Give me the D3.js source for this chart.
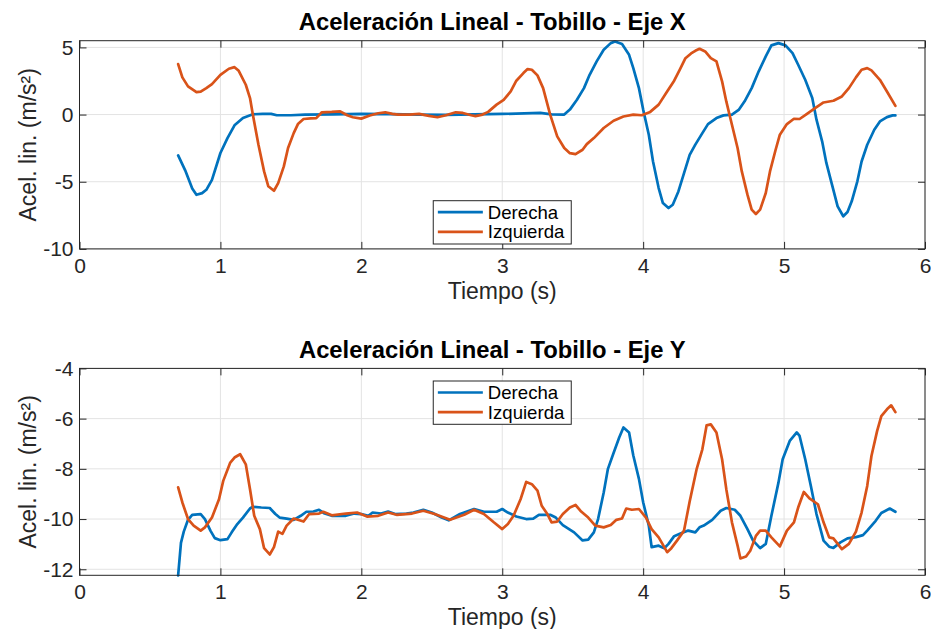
<!DOCTYPE html>
<html lang="es">
<head>
<meta charset="utf-8">
<script src="https://cdn.jsdelivr.net/npm/d3@7"></script>
<style>
  html, body { margin: 0; padding: 0; background: #fff; }
  svg { display: block; font-family: "Liberation Sans", Arial, Helvetica, sans-serif; }
</style>
</head>
<body>
<svg id="fig" width="931" height="629"></svg>
<script>
// Tiempo (s) y aceleración lineal (m/s²) del tobillo, eje X
const tEjeXDerecha = [0.70,0.75,0.80,0.83,0.87,0.90,0.94,1.00,1.05,1.10,1.16,1.23,1.30,1.36,1.40,1.50,1.60,1.80,2.00,2.20,2.40,2.60,2.80,3.00,3.10,3.27,3.35,3.44,3.48,3.53,3.58,3.62,3.67,3.72,3.77,3.80,3.85,3.90,3.93,3.97,4.00,4.04,4.07,4.11,4.14,4.18,4.21,4.25,4.29,4.33,4.37,4.42,4.46,4.52,4.57,4.63,4.68,4.72,4.77,4.82,4.87,4.91,4.96,5.01,5.06,5.10,5.15,5.20,5.23,5.27,5.30,5.34,5.38,5.42,5.45,5.48,5.52,5.55,5.59,5.64,5.68,5.73,5.77,5.79];
const ejeXDerecha  = [-3.04,-4.15,-5.5,-5.97,-5.85,-5.6,-4.86,-2.86,-1.75,-0.8,-0.26,0.02,0.05,0.05,-0.05,-0.05,0,0.02,0.05,0.03,0,-0.02,0.02,0.05,0.07,0.13,0.02,0,0.37,1.1,1.97,2.96,3.96,4.83,5.32,5.44,5.25,4.45,3.46,1.97,0.37,-1.5,-3.49,-5.47,-6.59,-6.96,-6.71,-5.72,-4.36,-3.0,-2.24,-1.38,-0.71,-0.26,-0.06,0,0.37,0.99,1.97,3.22,4.33,5.15,5.32,5.15,4.57,3.71,2.59,1.23,-0.38,-1.99,-3.6,-5.22,-6.83,-7.57,-7.25,-6.46,-4.97,-3.49,-2.25,-1.13,-0.51,-0.19,-0.06,-0.06];
const tEjeXIzquierda = [0.70,0.73,0.77,0.83,0.86,0.90,0.94,1.00,1.06,1.10,1.13,1.18,1.21,1.23,1.27,1.31,1.34,1.38,1.41,1.45,1.48,1.52,1.55,1.59,1.64,1.68,1.72,1.79,1.85,1.90,1.94,2.00,2.06,2.12,2.17,2.22,2.26,2.34,2.41,2.48,2.54,2.60,2.67,2.72,2.78,2.81,2.86,2.90,2.96,3.01,3.06,3.10,3.15,3.18,3.21,3.25,3.29,3.34,3.39,3.44,3.48,3.52,3.57,3.60,3.65,3.72,3.79,3.86,3.93,3.99,4.05,4.11,4.17,4.22,4.26,4.30,4.34,4.37,4.40,4.44,4.48,4.52,4.56,4.59,4.63,4.67,4.70,4.74,4.77,4.80,4.83,4.87,4.90,4.94,4.97,5.02,5.07,5.11,5.16,5.22,5.28,5.35,5.41,5.46,5.51,5.55,5.59,5.62,5.68,5.73,5.79];
const ejeXIzquierda  = [3.76,2.77,2.1,1.67,1.71,1.97,2.27,2.96,3.41,3.53,3.26,2.22,1.23,0,-2.25,-4.23,-5.34,-5.67,-5.1,-3.86,-2.49,-1.38,-0.71,-0.33,-0.28,-0.26,0.17,0.2,0.24,-0.05,-0.2,-0.3,-0.07,0.1,0.17,0.05,0,0,0.05,-0.1,-0.2,-0.05,0.17,0.12,-0.05,-0.12,0,0.2,0.74,1.1,1.72,2.52,3.09,3.39,3.34,2.92,1.97,0,-1.62,-2.49,-2.87,-2.94,-2.62,-2.2,-1.75,-1.0,-0.46,-0.14,0,-0.05,0.2,0.74,1.72,2.52,3.34,4.2,4.55,4.75,4.9,4.7,4.2,3.96,2.47,0.98,-0.76,-2.49,-4.23,-5.96,-7.08,-7.4,-7.08,-5.84,-4.23,-2.62,-1.5,-0.71,-0.31,-0.33,0.04,0.48,0.9,1.03,1.35,1.97,2.77,3.34,3.46,3.29,2.59,1.72,0.65];

// Tiempo (s) y aceleración lineal (m/s²) del tobillo, eje Y
const tEjeYDerecha = [0.70,0.72,0.74,0.77,0.80,0.86,0.89,0.93,0.96,1.00,1.05,1.08,1.12,1.16,1.21,1.23,1.29,1.35,1.39,1.42,1.47,1.52,1.57,1.61,1.66,1.70,1.74,1.79,1.89,1.95,2.00,2.05,2.08,2.14,2.19,2.24,2.32,2.37,2.44,2.50,2.57,2.62,2.70,2.80,2.87,2.96,3.00,3.04,3.10,3.17,3.22,3.26,3.34,3.38,3.43,3.51,3.57,3.61,3.65,3.68,3.72,3.75,3.79,3.83,3.86,3.90,3.93,3.97,4.00,4.04,4.06,4.11,4.15,4.18,4.22,4.26,4.32,4.37,4.40,4.43,4.49,4.55,4.59,4.65,4.69,4.74,4.78,4.83,4.87,4.91,4.96,4.99,5.04,5.09,5.11,5.15,5.19,5.23,5.28,5.32,5.35,5.40,5.45,5.51,5.56,5.59,5.65,5.69,5.75,5.79];
const ejeYDerecha  = [-12.24,-10.95,-10.5,-10.03,-9.83,-9.8,-10.0,-10.47,-10.76,-10.84,-10.8,-10.53,-10.2,-9.94,-9.58,-9.51,-9.54,-9.56,-9.8,-9.94,-9.98,-10.03,-9.87,-9.71,-9.7,-9.63,-9.78,-9.87,-9.87,-9.78,-9.8,-9.87,-9.74,-9.78,-9.7,-9.8,-9.78,-9.74,-9.63,-9.74,-9.94,-10.05,-9.8,-9.6,-9.71,-9.71,-9.6,-9.74,-9.9,-10.0,-9.98,-9.83,-9.83,-9.94,-10.24,-10.53,-10.85,-10.82,-10.53,-10.0,-8.94,-8.0,-7.37,-6.75,-6.35,-6.55,-7.47,-8.4,-9.33,-10.26,-11.12,-11.06,-11.16,-10.99,-10.68,-10.59,-10.46,-10.53,-10.33,-10.26,-10.03,-9.67,-9.56,-9.63,-9.87,-10.4,-10.86,-11.16,-10.99,-9.87,-8.55,-7.62,-6.89,-6.55,-6.69,-7.62,-8.68,-9.8,-10.86,-11.1,-11.15,-10.93,-10.77,-10.72,-10.64,-10.46,-10.07,-9.76,-9.58,-9.71];
const tEjeYIzquierda = [0.70,0.73,0.77,0.81,0.86,0.89,0.94,0.99,1.02,1.07,1.10,1.14,1.18,1.21,1.24,1.28,1.31,1.35,1.38,1.41,1.44,1.47,1.52,1.59,1.63,1.70,1.73,1.79,1.89,1.97,2.04,2.12,2.19,2.25,2.36,2.44,2.52,2.63,2.73,2.80,2.87,2.94,3.00,3.04,3.08,3.13,3.17,3.21,3.25,3.28,3.32,3.35,3.39,3.43,3.48,3.52,3.56,3.61,3.66,3.72,3.77,3.81,3.85,3.88,3.92,3.97,4.02,4.06,4.11,4.15,4.17,4.20,4.24,4.29,4.33,4.38,4.42,4.45,4.48,4.52,4.56,4.59,4.63,4.67,4.69,4.73,4.76,4.80,4.83,4.87,4.91,4.97,5.02,5.07,5.10,5.14,5.18,5.24,5.28,5.32,5.35,5.41,5.46,5.51,5.55,5.59,5.62,5.66,5.69,5.73,5.76,5.79];
const ejeYIzquierda  = [-8.74,-9.34,-10.0,-10.26,-10.46,-10.33,-9.94,-9.21,-8.48,-7.75,-7.55,-7.42,-7.82,-8.81,-9.87,-10.4,-11.16,-11.41,-11.12,-10.5,-10.59,-10.26,-9.98,-10.1,-9.8,-9.78,-9.71,-9.85,-9.78,-9.74,-9.9,-9.87,-9.74,-9.83,-9.78,-9.67,-9.8,-10.03,-9.83,-9.63,-9.8,-10.13,-10.4,-10.2,-9.87,-9.21,-8.52,-8.61,-8.87,-9.47,-9.8,-10.13,-10.1,-9.8,-9.54,-9.44,-9.7,-9.94,-10.26,-10.33,-10.24,-10.03,-9.98,-9.58,-9.63,-9.6,-9.94,-10.4,-10.73,-11.12,-11.32,-11.16,-10.86,-10.46,-9.3,-8.0,-7.22,-6.27,-6.23,-6.55,-7.62,-8.81,-10.13,-11.06,-11.57,-11.49,-11.26,-10.67,-10.46,-10.46,-10.73,-11.09,-10.46,-10.13,-9.54,-8.92,-9.18,-9.41,-10.13,-10.73,-10.77,-11.2,-10.99,-10.5,-9.74,-8.68,-7.49,-6.5,-5.9,-5.63,-5.47,-5.74];

const nombresSeries = ["Derecha", "Izquierda"];
const titulos = ["Aceleración Lineal - Tobillo - Eje X", "Aceleración Lineal - Tobillo - Eje Y"];
const etiquetaX = "Tiempo (s)";
const etiquetaY = "Acel. lin. (m/s²)";
const ticksTiempo = [0, 1, 2, 3, 4, 5, 6];
const ticksEjeX = [-10, -5, 0, 5];
const ticksEjeY = [-12, -10, -8, -6, -4];
const limitesEjeX = [-10, 5.5];
const limitesEjeY = [-12.24, -4];
const colores = ["#0072BD", "#D95319"];

const svg = d3.select("#fig");
const ink = "#262626";

const zip = (ts, vs) => ts.map((t, i) => [t, vs[i]]);

function panel(cfg) {
  const { top, bottom, left, right, yDomain, yTicks, title, series, legendAt, id } = cfg;
  const x = d3.scaleLinear().domain([0, 6]).range([left, right]);
  const y = d3.scaleLinear().domain(yDomain).range([bottom, top]);
  const g = svg.append("g");

  // fondo blanco
  g.append("rect").attr("x", left).attr("y", top)
    .attr("width", right - left).attr("height", bottom - top).attr("fill", "#fff");

  // rejilla
  const grid = g.append("g").attr("stroke", "#e3e3e3").attr("stroke-width", 1);
  ticksTiempo.forEach(v => {
    grid.append("line").attr("x1", x(v)).attr("x2", x(v)).attr("y1", top).attr("y2", bottom);
  });
  yTicks.forEach(v => {
    grid.append("line").attr("x1", left).attr("x2", right).attr("y1", y(v)).attr("y2", y(v));
  });

  // curvas
  g.append("clipPath").attr("id", id).append("rect")
    .attr("x", left).attr("y", top - 2).attr("width", right - left).attr("height", bottom - top + 4);
  const line = d3.line().x(d => x(d[0])).y(d => y(d[1]));
  series.forEach((s, i) => {
    g.append("path").datum(s)
      .attr("clip-path", `url(#${id})`)
      .attr("fill", "none").attr("stroke", colores[i])
      .attr("stroke-width", 2.7).attr("stroke-linejoin", "round").attr("stroke-linecap", "round")
      .attr("d", line);
  });

  // ejes (marcas hacia dentro en los cuatro lados)
  const tl = 7;
  const axB = g.append("g").attr("transform", `translate(0,${bottom})`)
    .call(d3.axisBottom(x).tickValues(ticksTiempo).tickSize(-tl).tickPadding(9).tickFormat(d3.format("d")));
  const axT = g.append("g").attr("transform", `translate(0,${top})`)
    .call(d3.axisTop(x).tickValues(ticksTiempo).tickSize(-tl).tickFormat(""));
  const axL = g.append("g").attr("transform", `translate(${left},0)`)
    .call(d3.axisLeft(y).tickValues(yTicks).tickSize(-tl).tickPadding(6).tickFormat(d => String(d)));
  const axR = g.append("g").attr("transform", `translate(${right},0)`)
    .call(d3.axisRight(y).tickValues(yTicks).tickSize(-tl).tickFormat(""));
  [axB, axT, axL, axR].forEach(a => {
    a.select(".domain").remove();
    a.selectAll(".tick line").attr("stroke", ink);
    a.selectAll("text").attr("fill", ink).attr("font-size", 21)
      .attr("font-family", "'Liberation Sans', Arial, Helvetica, sans-serif");
  });
  axB.selectAll("text").attr("dy", "0.71em");

  g.append("rect").attr("x", left).attr("y", top)
    .attr("width", right - left).attr("height", bottom - top)
    .attr("fill", "none").attr("stroke", ink).attr("stroke-width", 1);

  // título y etiquetas
  g.append("text").attr("x", (left + right) / 2 - 10).attr("y", top - 10.5)
    .attr("text-anchor", "middle").attr("font-size", 23.8).attr("font-weight", "bold")
    .attr("fill", "#000").text(title);
  g.append("text").attr("x", (left + right) / 2).attr("y", bottom + 50)
    .attr("text-anchor", "middle").attr("font-size", 23).attr("fill", ink).text(etiquetaX);
  g.append("text")
    .attr("transform", `translate(36,${(top + bottom) / 2}) rotate(-90)`)
    .attr("text-anchor", "middle").attr("font-size", 23).attr("fill", ink).text(etiquetaY);

  // leyenda
  const lw = 138, lh = 43.3;
  const lx = (left + right) / 2 - lw / 2;
  const ly = legendAt === "north" ? top + 12.6 : bottom - 4.9 - lh;
  const lg = g.append("g").attr("transform", `translate(${lx},${ly})`);
  lg.append("rect").attr("width", lw).attr("height", lh)
    .attr("fill", "#fff").attr("stroke", ink).attr("stroke-width", 1);
  nombresSeries.forEach((n, i) => {
    const yy = 11.5 + i * 19.6;
    lg.append("line").attr("x1", 4.6).attr("x2", 49.6).attr("y1", yy).attr("y2", yy)
      .attr("stroke", colores[i]).attr("stroke-width", 2.7);
    lg.append("text").attr("x", 54.6).attr("y", yy).attr("dy", "0.35em")
      .attr("font-size", 18.6).attr("fill", "#000").text(n);
  });
}

panel({
  id: "clipX", top: 40.7, bottom: 248.9, left: 79.5, right: 925,
  yDomain: limitesEjeX, yTicks: ticksEjeX, title: titulos[0], legendAt: "south",
  series: [zip(tEjeXDerecha, ejeXDerecha), zip(tEjeXIzquierda, ejeXIzquierda)]
});
panel({
  id: "clipY", top: 368.4, bottom: 575.3, left: 79.5, right: 925,
  yDomain: limitesEjeY, yTicks: ticksEjeY, title: titulos[1], legendAt: "north",
  series: [zip(tEjeYDerecha, ejeYDerecha), zip(tEjeYIzquierda, ejeYIzquierda)]
});
</script>
</body>
</html>
